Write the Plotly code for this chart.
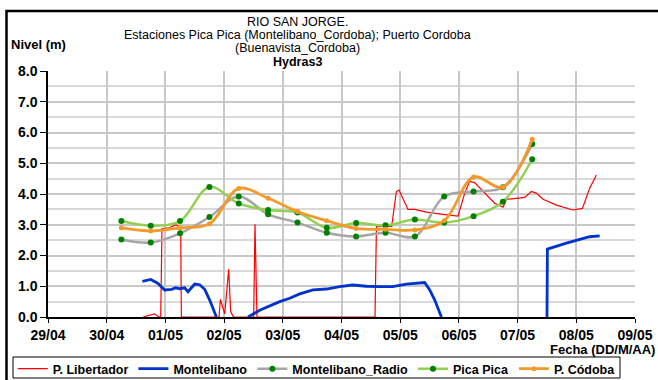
import plotly.graph_objects as go

# ---- series data ----
# P. Libertador (red, thin)
lib_t = ["2012-04-30 14:50", "2012-04-30 19:37", "2012-04-30 21:23", "2012-04-30 22:05",
         "2012-04-30 22:36", "2012-05-01 01:45", "2012-05-01 04:12", "2012-05-01 06:15",
         "2012-05-01 06:32", "2012-05-01 21:55", "2012-05-01 22:29", "2012-05-02 00:15",
         "2012-05-02 01:52", "2012-05-02 02:41", "2012-05-02 03:55", "2012-05-02 12:06",
         "2012-05-02 12:38", "2012-05-02 13:26", "2012-05-04 13:42", "2012-05-04 14:17",
         "2012-05-04 20:31", "2012-05-04 22:26", "2012-05-04 23:30", "2012-05-05 01:09",
         "2012-05-05 03:11", "2012-05-05 05:56", "2012-05-05 10:43", "2012-05-05 17:30",
         "2012-05-05 23:38", "2012-05-06 02:23", "2012-05-06 04:25", "2012-05-06 06:27",
         "2012-05-06 09:51", "2012-05-06 14:38", "2012-05-06 18:02", "2012-05-06 19:25",
         "2012-05-06 23:31", "2012-05-07 02:54", "2012-05-07 05:38", "2012-05-07 07:41",
         "2012-05-07 10:23", "2012-05-07 15:52", "2012-05-07 22:39", "2012-05-08 02:30",
         "2012-05-08 05:28", "2012-05-08 08:13"]
lib_v = [0.0, 0.10, 0.0, 0.0,
         2.88, 2.90, 3.00, 2.90,
         0.0, 0.0, 0.57, 0.10,
         1.55, 0.17, 0.0, 0.0,
         3.02, 0.0, 0.0, 2.94,
         2.95, 4.08, 4.13, 3.86,
         3.50, 3.50, 3.41, 3.34,
         3.28, 4.03, 4.41, 4.37,
         4.08, 3.70, 3.57, 3.83,
         3.86, 3.89, 4.08, 4.03,
         3.83, 3.64, 3.48, 3.53,
         4.19, 4.62]

# Montelibano (blue, thick) - None marks missing records
mon_t = ["2012-04-30 14:36", "2012-04-30 18:00", "2012-04-30 20:51", "2012-04-30 23:42",
         "2012-05-01 02:34", "2012-05-01 04:12", "2012-05-01 05:51", "2012-05-01 07:54",
         "2012-05-01 09:14", "2012-05-01 11:59", "2012-05-01 14:01", "2012-05-01 16:04",
         "2012-05-01 18:07", "2012-05-01 20:51", "2012-05-02 03:00",
         "2012-05-02 09:46", "2012-05-02 14:33", "2012-05-02 22:44", "2012-05-03 02:50",
         "2012-05-03 06:55", "2012-05-03 12:21", "2012-05-03 17:50", "2012-05-03 23:15",
         "2012-05-04 04:35", "2012-05-04 10:10", "2012-05-04 15:37", "2012-05-04 20:56",
         "2012-05-05 02:32", "2012-05-05 06:37", "2012-05-05 10:00", "2012-05-05 12:04",
         "2012-05-05 14:07", "2012-05-05 16:51", "2012-05-06 12:00",
         "2012-05-07 12:01", "2012-05-07 12:11", "2012-05-07 19:57", "2012-05-08 01:23",
         "2012-05-08 05:28", "2012-05-08 09:34"]
mon_v = [1.16, 1.22, 1.10, 0.88,
         0.90, 0.95, 0.92, 0.95,
         0.82, 1.07, 1.05, 0.90,
         0.55, 0.0, None,
         0.0, 0.22, 0.50, 0.61,
         0.75, 0.88, 0.91, 0.99,
         1.04, 1.00, 0.99, 0.99,
         1.07, 1.11, 1.12, 0.88,
         0.55, 0.0, None,
         0.0, 2.21, 2.40, 2.53,
         2.61, 2.64]

# Twice-daily readings (06:00 and 18:00)
obs_t = ["2012-04-30 06:00", "2012-04-30 18:00", "2012-05-01 06:00", "2012-05-01 18:00",
         "2012-05-02 06:00", "2012-05-02 18:00", "2012-05-03 06:00", "2012-05-03 18:00",
         "2012-05-04 06:00", "2012-05-04 18:00", "2012-05-05 06:00", "2012-05-05 18:00",
         "2012-05-06 06:00", "2012-05-06 18:00", "2012-05-07 06:00"]
radio_v = [2.52, 2.42, 2.72, 3.25, 3.92, 3.34, 3.07, 2.74, 2.62, 2.74, 2.62, 3.92, 4.08, 4.22, 5.63]
pica_v = [3.12, 2.97, 3.12, 4.23, 3.69, 3.48, 3.40, 2.90, 3.06, 2.98, 3.17, 3.07, 3.28, 3.75, 5.13]
cordoba_v = [2.90, 2.80, 2.90, 3.03, 4.18, 3.86, 3.43, 3.13, 2.88, 2.85, 2.83, 3.13, 4.55, 4.22, 5.78]

day_ticks = ["2012-04-29", "2012-04-30", "2012-05-01", "2012-05-02", "2012-05-03", "2012-05-04",
             "2012-05-05", "2012-05-06", "2012-05-07", "2012-05-08", "2012-05-09"]
day_labels = ["29/04", "30/04", "01/05", "02/05", "03/05", "04/05",
              "05/05", "06/05", "07/05", "08/05", "09/05"]

FONT = "Liberation Sans, Arial, sans-serif"
DOT = "#008000"

fig = go.Figure()
fig.add_trace(go.Scatter(x=lib_t, y=lib_v, name="P. Libertador", mode="lines",
                         line=dict(color="#FF0000", width=1.2)))
fig.add_trace(go.Scatter(x=mon_t, y=mon_v, name="Montelibano", mode="lines",
                         line=dict(color="#0033CC", width=2.8), connectgaps=False))
fig.add_trace(go.Scatter(x=obs_t, y=radio_v, name="Montelibano_Radio", mode="lines+markers",
                         line=dict(color="#A6A6A6", width=2.5, shape="spline", smoothing=1.0),
                         marker=dict(color=DOT, size=6)))
fig.add_trace(go.Scatter(x=obs_t, y=pica_v, name="Pica Pica", mode="lines+markers",
                         line=dict(color="#92D050", width=2.5, shape="spline", smoothing=1.0),
                         marker=dict(color=DOT, size=6)))
fig.add_trace(go.Scatter(x=obs_t, y=cordoba_v, name="P. Códoba", mode="lines+markers",
                         line=dict(color="#F39A2A", width=2.8, shape="spline", smoothing=1.0),
                         marker=dict(color="#F39A2A", size=5)))


def py(px):
    """paper y for a pixel row of the 246 px tall plot area (top at 71)"""
    return (317 - px) / 246.0


def px_x(px):
    """paper x for a pixel column of the 587 px wide plot area (left at 48)"""
    return (px - 48) / 587.0


# header lines (pixel rows from the top of the figure)
header = [("RIO SAN JORGE.", 22.0, False),
          ("Estaciones Pica Pica (Montelibano_Cordoba); Puerto Cordoba", 35.0, False),
          ("(Buenavista_Cordoba)", 48.0, False),
          ("Hydras3", 61.5, True)]
annotations = []
for txt, ypx, bold in header:
    annotations.append(dict(text=f"<b>{txt}</b>" if bold else txt,
                            xref="paper", yref="paper", x=px_x(297), y=py(ypx),
                            xanchor="center", yanchor="middle",
                            showarrow=False, font=dict(size=12.5, color="black")))
annotations.append(dict(text="<b>Nivel (m)</b>", xref="paper", yref="paper", x=-0.066, y=1.107,
                        xanchor="left", yanchor="middle", showarrow=False,
                        font=dict(size=13, color="black")))
annotations.append(dict(text="<b>Fecha (DD/M/AA)</b>", xref="paper", yref="paper", x=1.037, y=py(349),
                        xanchor="right", yanchor="middle", showarrow=False,
                        font=dict(size=13, color="black")))

shapes = [
    # outer chart frame
    dict(type="rect", xref="paper", yref="paper", x0=px_x(6.5), x1=1.1, y0=-0.35, y1=py(11),
         line=dict(color="black", width=2.5), fillcolor="rgba(0,0,0,0)", layer="above"),
    # legend frame
    dict(type="rect", xref="paper", yref="paper", x0=px_x(13), x1=px_x(620), y0=py(378), y1=py(357),
         line=dict(color="black", width=1), fillcolor="rgba(0,0,0,0)", layer="above"),
]

fig.update_layout(
    width=658, height=380,
    margin=dict(l=48, r=23, t=71, b=63, autoexpand=False),
    paper_bgcolor="white", plot_bgcolor="white",
    font=dict(family=FONT, color="black"),
    showlegend=True,
    legend=dict(orientation="h", xref="paper", yref="paper",
                x=-0.06, y=py(354), xanchor="left", yanchor="top",
                borderwidth=0, bgcolor="rgba(0,0,0,0)",
                font=dict(size=12.5, color="black", weight="bold"),
                itemwidth=30, tracegroupgap=0),
    annotations=annotations,
    shapes=shapes,
)

fig.update_xaxes(
    type="date", range=["2012-04-29", "2012-05-09"],
    tickmode="array", tickvals=day_ticks, ticktext=day_labels,
    tickfont=dict(size=14, color="black", weight="bold"),
    showgrid=True, gridcolor="#C8C8C8", gridwidth=1.5,
    showline=True, linecolor="black", linewidth=1.5,
    ticks="outside", ticklen=4, tickcolor="black", zeroline=False,
)
fig.update_yaxes(
    range=[0, 8], dtick=1, tickformat=".1f",
    tickfont=dict(size=14, color="black", weight="bold"),
    showgrid=True, gridcolor="#C8C8C8", gridwidth=1.5,
    minor=dict(dtick=0.5, showgrid=True, gridcolor="#D9D9D9", gridwidth=1.5),
    showline=True, linecolor="black", linewidth=1.5,
    ticks="outside", ticklen=6, tickcolor="black", zeroline=False,
)

fig.write_html("out.html")
